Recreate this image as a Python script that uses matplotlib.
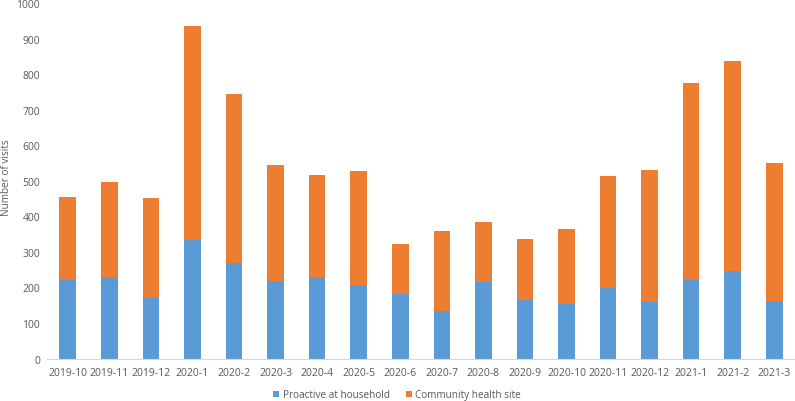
import matplotlib
matplotlib.use("Agg")
import matplotlib.pyplot as plt
import numpy as np

months = ["2019-10", "2019-11", "2019-12", "2020-1", "2020-2", "2020-3", "2020-4",
          "2020-5", "2020-6", "2020-7", "2020-8", "2020-9", "2020-10", "2020-11",
          "2020-12", "2021-1", "2021-2", "2021-3"]
household = [220, 230, 169, 333, 270, 218, 230, 208, 181, 135, 216, 165, 153, 198,
             158, 222, 247, 162]
community = [235, 267, 282, 604, 473, 326, 285, 321, 141, 225, 168, 172, 212, 315,
             372, 553, 591, 388]
yticks = [0, 100, 200, 300, 400, 500, 600, 700, 800, 900, 1000]

plt.rcParams['font.family'] = ['Open Sans', 'DejaVu Sans']
grey = '#595959'

fig = plt.figure(figsize=(7.95, 4.02), dpi=100)
ax = fig.add_axes([0.0591, 0.1057, 0.941, 0.884])
x = np.arange(len(months))
ax.bar(x, household, width=0.4, color='#5B9BD5', label='Proactive at household')
ax.bar(x, community, width=0.4, bottom=household, color='#ED7D31', label='Community health site')

ax.set_xlim(-0.5, len(months) - 0.5)
ax.set_ylim(0, 1000)
ax.set_yticks(yticks)
ax.set_xticks(x)
ax.set_xticklabels(months)
ax.tick_params(axis='both', length=0, labelsize=7.5, colors=grey)
ax.tick_params(axis='x', pad=6)
ax.tick_params(axis='y', pad=5)
for s in ['top', 'right', 'left']:
    ax.spines[s].set_visible(False)
ax.spines['bottom'].set_color('#D9D9D9')

fig.text(7 / 795, 1 - 178 / 402, 'Number of visits', rotation=90, fontsize=7.2,
         color=grey, ha='center', va='center')

ax.legend(loc='center', bbox_to_anchor=(0.468, -0.102), ncol=2, frameon=False,
          fontsize=7.2, labelcolor=grey, handlelength=0.6, handleheight=0.6,
          columnspacing=1.6, handletextpad=0.35, borderpad=0, borderaxespad=0)

fig.savefig('out.png', dpi=100)
